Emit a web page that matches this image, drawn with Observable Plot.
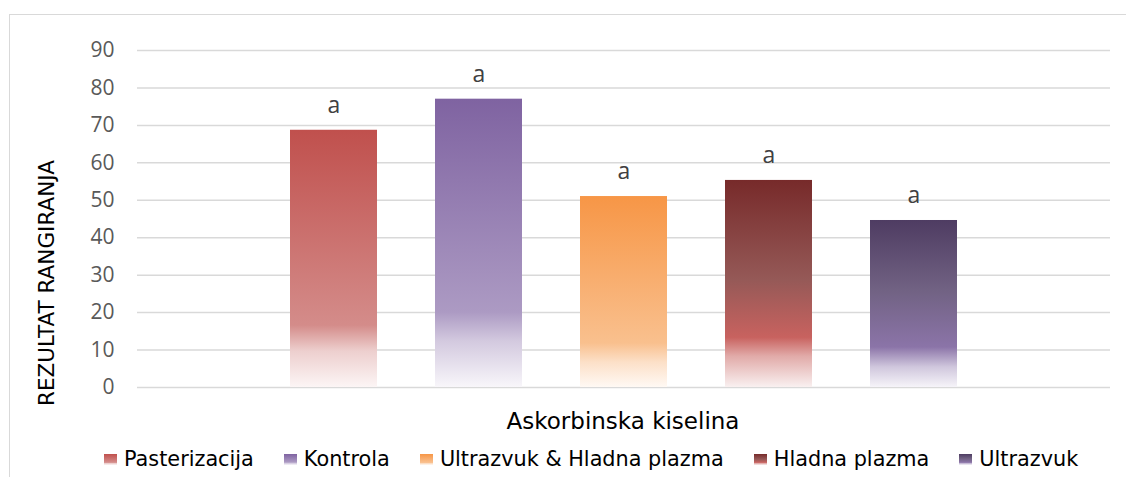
<!DOCTYPE html>
<html>
<head>
<meta charset="utf-8">
<script src="https://cdn.jsdelivr.net/npm/d3@7"></script>
<script src="https://cdn.jsdelivr.net/npm/@observablehq/plot@0.6"></script>
<style>
  html, body { margin: 0; padding: 0; background: #fff; }
  #wrap { position: relative; width: 1126px; height: 477px; overflow: hidden; }
  #frame { position: absolute; left: 9px; top: 14px; width: 1300px; height: 700px;
           border-left: 1.5px solid #d9d9d9; border-top: 1.5px solid #d9d9d9; box-sizing: border-box; }
  #chart { position: absolute; left: 0; top: 0; }
  #ytitle { position: absolute; left: 46px; top: 283px; transform: translate(-50%, -50%) rotate(-90deg);
            font-family: "DejaVu Sans", sans-serif; font-size: 21.5px; color: #000; white-space: nowrap; }
  #xtitle { position: absolute; left: 623px; top: 421px; transform: translate(-50%, -50%);
            font-family: "DejaVu Sans", sans-serif; font-size: 23px; color: #000; white-space: nowrap; }
  #legend { position: absolute; left: 104px; top: 459px; transform: translateY(-50%); display: flex; align-items: center;
            font-family: "DejaVu Sans", sans-serif; font-size: 20.8px; color: #000; white-space: nowrap; }
  .item { display: flex; align-items: center; margin-right: 30px; }
  .sw { width: 13px; height: 11px; margin-right: 7px; }
</style>
</head>
<body>
<div id="wrap">
  <div id="frame"></div>
  <div id="chart"></div>
  <div id="ytitle">REZULTAT RANGIRANJA</div>
  <div id="xtitle"></div>
  <div id="legend"></div>
</div>
<script>
// ---- data ----
const series = ["Pasterizacija", "Kontrola", "Ultrazvuk & Hladna plazma", "Hladna plazma", "Ultrazvuk"];
const values = [68.7, 77.0, 51.0, 55.3, 44.6];
const letters = ["a", "a", "a", "a", "a"];
const yTicks = [0, 10, 20, 30, 40, 50, 60, 70, 80, 90];
const categoryTitle = "Askorbinska kiselina";

// ---- styles (gradient stops per series, top -> bottom) ----
const gradStops = [
  [[0, "#C0504D"], [0.76, "#D48C8A"], [0.86, "#EDCFCE"], [1, "#FCF5F5"]],
  [[0, "#7F63A1"], [0.74, "#AC9AC3"], [0.84, "#D3C9DF"], [1, "#F8F6FA"]],
  [[0, "#F79646"], [0.77, "#F9C08E"], [0.87, "#FCE0C8"], [1, "#FFF9F4"]],
  [[0, "#772A2A"], [0.48, "#955957"], [0.76, "#C8625F"], [0.85, "#E1AAA8"], [1, "#F9F0F0"]],
  [[0, "#4E3C62"], [0.42, "#716283"], [0.76, "#8B74A8"], [0.88, "#D0C7DD"], [1, "#F6F4F9"]]
];

const data = series.map((s, i) => ({ series: s, value: values[i], letter: letters[i], grad: `url(#grad${i})` }));

const chart = Plot.plot({
  width: 1126,
  height: 400,
  marginTop: 50,
  marginBottom: 13,
  marginLeft: 137,
  marginRight: 16,
  style: { fontFamily: "'Open Sans', sans-serif", fontSize: "21px", color: "#595959", background: "transparent" },
  x: { domain: series, paddingInner: 0.4, paddingOuter: 0.2, insetLeft: 122.5, insetRight: 122.5, axis: null },
  y: { domain: [0, 90] },
  color: { type: "identity" },
  marks: [
    Plot.ruleY(yTicks, { stroke: "#d9d9d9", strokeWidth: 1.5 }),
    Plot.axisY(yTicks, { tickSize: 0, tickPadding: 23, label: null, fill: "#595959" }),
    Plot.barY(data, { x: "series", y: "value", fill: "grad" }),
    Plot.text(data, { x: "series", y: "value", text: "letter", dy: -25, fill: "#404040", fontSize: 23 })
  ]
});

// gradient defs
const svg = d3.select(chart);
const defs = svg.insert("defs", ":first-child");
gradStops.forEach((stops, i) => {
  const g = defs.append("linearGradient").attr("id", `grad${i}`)
    .attr("x1", 0).attr("y1", 0).attr("x2", 0).attr("y2", 1);
  stops.forEach(([o, c]) => g.append("stop").attr("offset", o).attr("stop-color", c));
});
document.getElementById("chart").appendChild(chart);
document.getElementById("xtitle").textContent = categoryTitle;

// legend
const legend = d3.select("#legend");
series.forEach((s, i) => {
  const it = legend.append("div").attr("class", "item");
  const css = "linear-gradient(to bottom, " + gradStops[i].map(([o, c]) => `${c} ${o * 100}%`).join(", ") + ")";
  it.append("div").attr("class", "sw").style("background", css);
  it.append("span").text(s);
});
</script>
</body>
</html>
